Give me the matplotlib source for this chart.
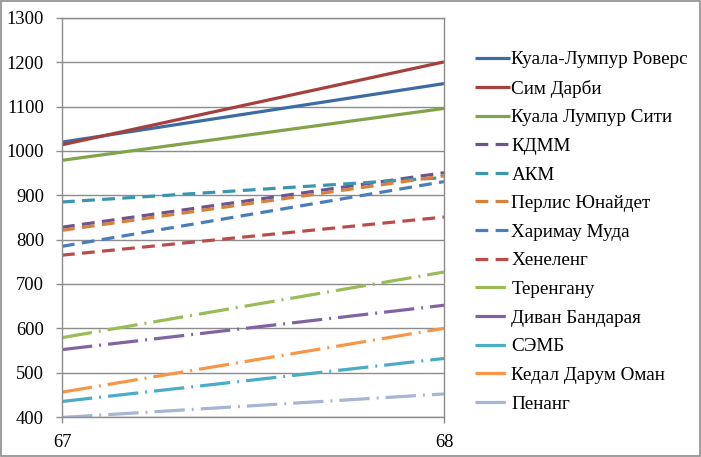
import matplotlib
matplotlib.use("Agg")
import matplotlib.pyplot as plt
from matplotlib.patches import Rectangle

plt.rcParams['font.family'] = ['Liberation Serif', 'DejaVu Serif']

years = [67, 68]
teams = ["Куала-Лумпур Роверс", "Сим Дарби", "Куала Лумпур Сити", "КДММ", "АКМ",
         "Перлис Юнайдет", "Харимау Муда", "Хенеленг", "Теренгану", "Диван Бандарая",
         "СЭМБ", "Кедал Дарум Оман", "Пенанг"]
start_vals = [1020, 1014, 979, 828, 885, 821, 785, 765, 579, 552, 435, 456, 399]
end_vals = [1152, 1201, 1096, 951, 940, 944, 931, 851, 727, 652, 532, 600, 452]
yticks = [400, 500, 600, 700, 800, 900, 1000, 1100, 1200, 1300]

colors = ["#3D6CA3", "#A5403D", "#83A34A", "#6D548E", "#3A96AE", "#D8813A",
          "#4A7EBB", "#BE4B48", "#9BBB59", "#8064A2", "#4BACC6", "#F79646", "#A7B5D4"]
styles = ["solid"] * 3 + ["dash"] * 5 + ["dashdot"] * 5

fig = plt.figure(figsize=(7.01, 4.57), dpi=100)
fig.patches.append(Rectangle((0.002, 0.002), 0.996, 0.995, transform=fig.transFigure,
                             fill=False, edgecolor="#8C8C8C", linewidth=1.2))
ax = fig.add_axes([62/701, 1-417/457, (444-62)/701, (417-18)/457])

for i, name in enumerate(teams):
    kw = dict(color=colors[i], linewidth=2.3, label=name, solid_capstyle='butt')
    line, = ax.plot(years, [start_vals[i], end_vals[i]], **kw)
    if styles[i] == "dash":
        line.set_dashes((4, 2.3))
        line.set_dash_capstyle('butt')
    elif styles[i] == "dashdot":
        line.set_dashes((9.5, 2.2, 0.6, 2.2))
        line.set_dash_capstyle('butt')

ax.set_xlim(67, 68)
ax.set_ylim(400, 1300)
ax.set_xticks(years)
ax.set_xticklabels([str(y) for y in years])
ax.set_yticks(yticks)
ax.yaxis.grid(True, color="#8C8C8C", linewidth=1)
ax.set_axisbelow(True)
for s in ax.spines.values():
    s.set_color("#8C8C8C")
    s.set_linewidth(1)
ax.tick_params(axis='both', colors="#8C8C8C", labelcolor="black", labelsize=13.3,
               length=4, width=1, direction='out')
ax.tick_params(axis='y', pad=9)
ax.tick_params(axis='x', pad=8)

fig.legend(loc='upper left', bbox_to_anchor=(475/701, 1-51/457), frameon=False,
           fontsize=13.8, handlelength=1.8, handletextpad=0.1, labelspacing=0.585,
           borderpad=0, borderaxespad=0)

fig.savefig("out.png", dpi=100)
